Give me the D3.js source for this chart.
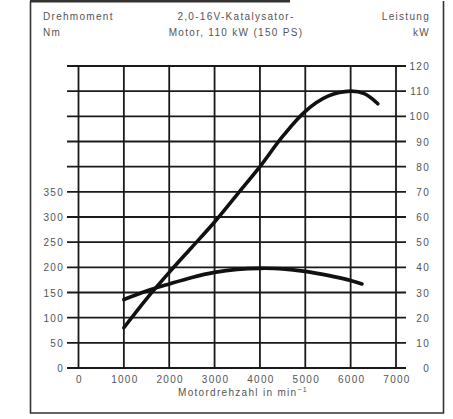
<!DOCTYPE html>
<html>
  <head>
    <script src="https://cdn.jsdelivr.net/npm/d3@7"></script>
    <style>
      body { margin: 0; background: #fff; }
      text { font-family: "Liberation Sans", Arial, sans-serif; font-size: 10px; fill: #555; letter-spacing: 1.3px; }
    </style>
  </head>
  <body>
    <svg id="chart" width="453" height="419"></svg>
    <script>
    // rpm / Nm / kW
    var torqueRpm = [1000, 1500, 2000, 2500, 3000, 3500, 4000, 4500, 5000, 5500, 6000, 6250];
    var torqueNm  = [136, 153, 167, 180, 190, 196, 198, 197, 192, 184, 174, 167];
    var powerRpm  = [1000, 1500, 2000, 2500, 3000, 3500, 4000, 4500, 5000, 5500, 6000, 6300, 6600];
    var powerKw   = [16, 27.5, 38, 48, 58, 69, 80, 92, 102, 108, 110, 109, 105];
    var rpmTicks  = [0, 1000, 2000, 3000, 4000, 5000, 6000, 7000];
    var nmTicks   = [0, 50, 100, 150, 200, 250, 300, 350];
    var kwTicks   = [0, 10, 20, 30, 40, 50, 60, 70, 80, 90, 100, 110, 120];

    var svg = d3.select("#chart");

    var x = d3.scaleLinear().domain([0, 7000]).range([78.5, 396]);
    var yNm = d3.scaleLinear().domain([0, 600]).range([368, 66]);
    var yKw = d3.scaleLinear().domain([0, 120]).range([368, 66]);

    // frame
    svg.append("path")
      .attr("d", "M30.5,1 V413 H443.5 V1")
      .attr("fill", "none").attr("stroke", "#333").attr("stroke-width", 1.6);
    svg.append("line")
      .attr("x1", 30).attr("x2", 290).attr("y1", 1).attr("y2", 1)
      .attr("stroke", "#333").attr("stroke-width", 3);

    // grid
    var grid = svg.append("g").attr("stroke", "#1a1a1a").attr("stroke-width", 1.8);
    grid.selectAll(".h").data(kwTicks).enter().append("line")
      .attr("x1", 67).attr("x2", 406)
      .attr("y1", function(d){ return yKw(d); })
      .attr("y2", function(d){ return yKw(d); });
    grid.selectAll(".v").data(rpmTicks).enter().append("line")
      .attr("x1", function(d){ return x(d); })
      .attr("x2", function(d){ return x(d); })
      .attr("y1", 65).attr("y2", 369);

    // tick labels
    svg.append("g").selectAll("text").data(nmTicks).enter().append("text")
      .attr("x", 64).attr("y", function(d){ return yNm(d) + 4; })
      .attr("text-anchor", "end").text(function(d){ return d; });
    svg.append("g").selectAll("text").data(kwTicks).enter().append("text")
      .attr("x", 430).attr("y", function(d){ return yKw(d) + 4; })
      .attr("text-anchor", "end").text(function(d){ return d; });
    svg.append("g").selectAll("text").data(rpmTicks).enter().append("text")
      .attr("x", function(d){ return x(d) + 1; }).attr("y", 383)
      .attr("text-anchor", "middle").text(function(d){ return d; });

    // headings
    svg.append("text").attr("x", 43).attr("y", 20).text("Drehmoment");
    svg.append("text").attr("x", 43).attr("y", 36).text("Nm");
    svg.append("text").attr("x", 236).attr("y", 20).attr("text-anchor", "middle").text("2,0-16V-Katalysator-");
    svg.append("text").attr("x", 236).attr("y", 36).attr("text-anchor", "middle").text("Motor, 110 kW (150 PS)");
    svg.append("text").attr("x", 430).attr("y", 20).attr("text-anchor", "end").text("Leistung");
    svg.append("text").attr("x", 430).attr("y", 36).attr("text-anchor", "end").text("kW");
    var xl = svg.append("text").attr("x", 243).attr("y", 396).attr("text-anchor", "middle");
    xl.append("tspan").text("Motordrehzahl in min");
    xl.append("tspan").attr("dy", -4).attr("font-size", "7px").text("−1");

    // curves
    var torqueLine = d3.line()
      .x(function(d, i){ return x(torqueRpm[i]); })
      .y(function(d){ return yNm(d); })
      .curve(d3.curveCatmullRom.alpha(0.5));
    var powerLine = d3.line()
      .x(function(d, i){ return x(powerRpm[i]); })
      .y(function(d){ return yKw(d); })
      .curve(d3.curveCatmullRom.alpha(0.5));

    svg.append("path").attr("d", torqueLine(torqueNm))
      .attr("fill", "none").attr("stroke", "#111").attr("stroke-width", 3.6)
      .attr("stroke-linecap", "round");
    svg.append("path").attr("d", powerLine(powerKw))
      .attr("fill", "none").attr("stroke", "#111").attr("stroke-width", 3.6)
      .attr("stroke-linecap", "round");
    </script>
  </body>
</html>
